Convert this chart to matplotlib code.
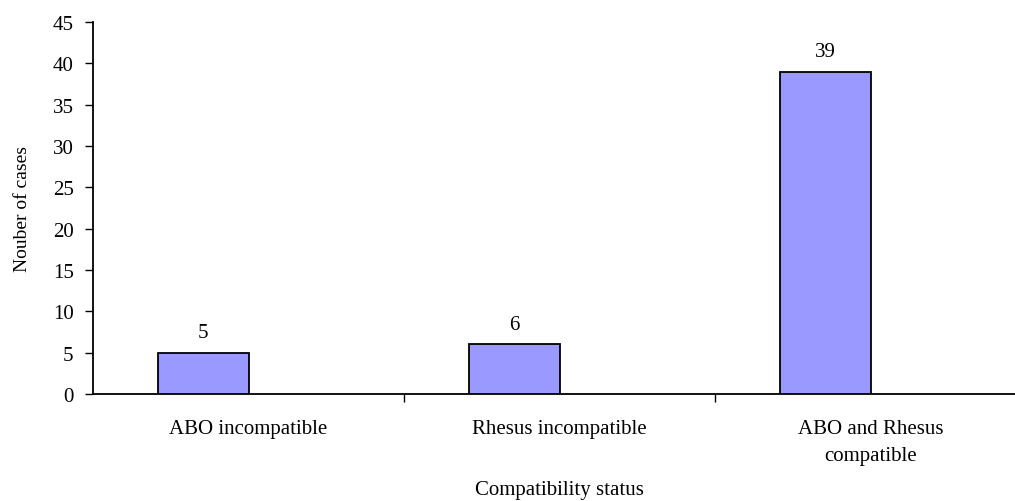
import numpy as np
import matplotlib
matplotlib.use("Agg")
import matplotlib.pyplot as plt

categories = ["ABO incompatible", "Rhesus incompatible", "ABO and Rhesus\ncompatible"]
cases = [5, 6, 39]
y_ticks = [0, 5, 10, 15, 20, 25, 30, 35, 40, 45]

plt.rcParams['font.family'] = ['Liberation Serif', 'DejaVu Serif']

W, H = 1015, 502
fig = plt.figure(figsize=(W / 100, H / 100), dpi=100)
# plot area in pixels: left 93, right 1026 (runs past the edge), top 23, bottom 395
ax = fig.add_axes([93 / W, (H - 395) / H, (1026 - 93) / W, (395 - 23) / H])

x = np.arange(len(categories))
bar_w = 0.29
bars = ax.bar(x - bar_w / 2, cases, width=bar_w, color="#9999FF",
              edgecolor="black", linewidth=1.3, zorder=3)
for b, v in zip(bars, cases):
    ax.text(b.get_x() + b.get_width() / 2, v + 1.3, str(v),
            ha="center", va="bottom", fontsize=15)

ax.set_xlim(-0.5, len(categories) - 0.5)
ax.set_ylim(0, 45)
ax.set_yticks(y_ticks)
ax.tick_params(axis="y", direction="out", length=6, width=1, labelsize=15, pad=8)

ax.set_xticks(x)
ax.set_xticklabels(categories, fontsize=15, linespacing=1.55)
ax.tick_params(axis="x", which="major", length=0, pad=18)
ax.set_xticks(x[:-1] + 0.5, minor=True)
ax.tick_params(axis="x", which="minor", direction="out", length=6, width=1)

for s in ["top", "right"]:
    ax.spines[s].set_visible(False)
for s in ["left", "bottom"]:
    ax.spines[s].set_linewidth(1.3)

ax.set_ylabel("Nouber of cases", fontsize=14)
ax.yaxis.set_label_coords((31 - 93) / (1026 - 93), 0.5)
fig.text((93 + 1026) / 2 / W, 1 - 500 / H, "Compatibility status",
         ha="center", va="bottom", fontsize=15)

fig.savefig("out.png", dpi=100)
